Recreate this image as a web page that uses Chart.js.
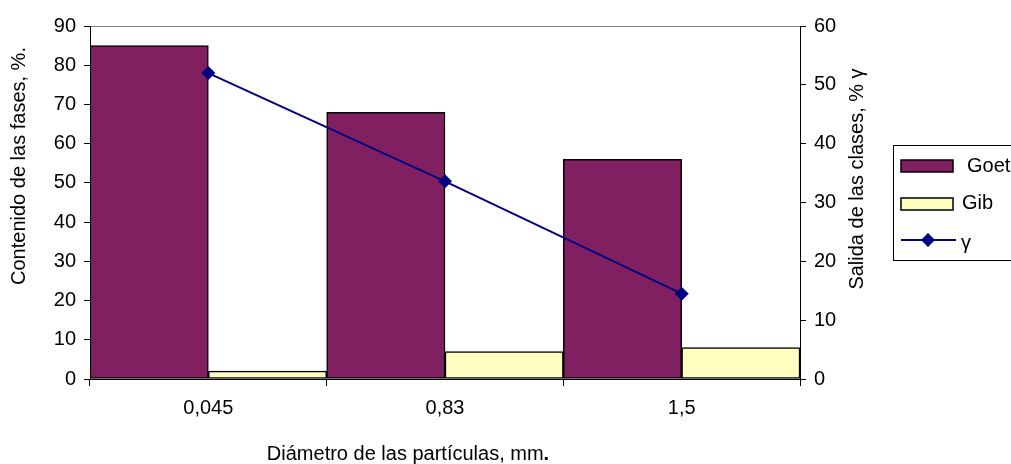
<!DOCTYPE html>
<html>
<head>
<meta charset="utf-8">
<script src="https://cdn.jsdelivr.net/npm/chart.js@4/dist/chart.umd.min.js"></script>
<style>
  body { margin: 0; background: #fff; }
  #wrap { width: 1011px; height: 464px; }
</style>
</head>
<body>
<div id="wrap"><canvas id="chart" width="1011" height="464"></canvas></div>
<script>
// Data
const categories = ['0,045', '0,83', '1,5'];
const goetValues = [85, 68, 56];
const gibValues = [2, 7, 8];
const gammaValues = [52, 33.6, 14.5];

const leftTitle = 'Contenido de las fases, %.';
const rightTitle = 'Salida de las clases, % \u03b3';
const xTitle = 'Diámetro de las partículas, mm';

const FONT = '"Liberation Sans", Arial, sans-serif';
const goetColor = '#802060';
const gibColor = '#FFFFC0';
const lineColor = '#000080';

// Titles and legend drawn by hand so they sit where the reference has them
const extrasPlugin = {
    id: 'extras',
    afterDraw(chart) {
        const c = chart.ctx;
        c.save();
        c.fillStyle = '#000';
        c.font = '20px ' + FONT;
        c.textBaseline = 'middle';

        // left axis title
        c.save();
        c.translate(19, 166);
        c.rotate(-Math.PI / 2);
        c.textAlign = 'center';
        c.fillText(leftTitle, 0, 0);
        c.restore();

        // right axis title (reads upward, like the left one)
        c.save();
        c.translate(857, 179);
        c.rotate(-Math.PI / 2);
        c.textAlign = 'center';
        c.fillText(rightTitle, 0, 0);
        c.restore();

        // x axis title with a bold full stop
        c.textAlign = 'left';
        const w = c.measureText(xTitle).width;
        c.font = 'bold 20px ' + FONT;
        const wDot = c.measureText('.').width;
        const x0 = 408 - (w + wDot) / 2;
        c.font = '20px ' + FONT;
        c.fillText(xTitle, x0, 454);
        c.font = 'bold 20px ' + FONT;
        c.fillText('.', x0 + w, 454);

        // legend box
        c.strokeStyle = '#000';
        c.lineWidth = 1;
        c.strokeRect(893.5, 145.5, 130, 115);

        c.font = '20px ' + FONT;
        c.lineWidth = 1.5;
        c.fillStyle = goetColor;
        c.fillRect(901, 160, 52, 12);
        c.strokeRect(901, 160, 52, 12);
        c.fillStyle = '#000';
        c.fillText(chart.data.datasets[1].label, 967, 166);

        c.fillStyle = gibColor;
        c.fillRect(901, 198, 52, 12);
        c.strokeRect(901, 198, 52, 12);
        c.fillStyle = '#000';
        c.fillText(chart.data.datasets[2].label, 962, 203);

        c.strokeStyle = lineColor;
        c.lineWidth = 2;
        c.beginPath();
        c.moveTo(901, 240);
        c.lineTo(956, 240);
        c.stroke();
        c.fillStyle = lineColor;
        c.beginPath();
        c.moveTo(928, 233);
        c.lineTo(935, 240);
        c.lineTo(928, 247);
        c.lineTo(921, 240);
        c.closePath();
        c.fill();
        c.fillStyle = '#000';
        c.fillText(chart.data.datasets[0].label, 961, 243);

        c.restore();
    }
};

const ctx = document.getElementById('chart').getContext('2d');
const chart = new Chart(ctx, {
    data: {
        labels: categories,
        datasets: [
            {
                type: 'line',
                label: '\u03b3',
                data: gammaValues,
                yAxisID: 'y1',
                borderColor: lineColor,
                backgroundColor: lineColor,
                borderWidth: 2,
                pointStyle: 'rectRot',
                pointRadius: 7,
                pointBorderWidth: 0,
                tension: 0,
                order: 0,
            },
            {
                type: 'bar',
                label: 'Goet',
                data: goetValues,
                yAxisID: 'y',
                backgroundColor: goetColor,
                borderColor: '#000',
                borderWidth: 1.5,
                borderSkipped: false,
                categoryPercentage: 1,
                barPercentage: 1,
                order: 1,
            },
            {
                type: 'bar',
                label: 'Gib',
                data: gibValues,
                yAxisID: 'y',
                backgroundColor: gibColor,
                borderColor: '#000',
                borderWidth: 1.5,
                borderSkipped: false,
                categoryPercentage: 1,
                barPercentage: 1,
                order: 1,
            },
        ],
    },
    options: {
        responsive: false,
        animation: false,
        layout: { padding: { top: 26, right: 136, bottom: 0, left: 0 } },
        plugins: {
            legend: { display: false },
            tooltip: { enabled: false },
        },
        scales: {
            x: {
                offset: true,
                grid: {
                    offset: true,
                    drawOnChartArea: false,
                    tickLength: 7,
                    color: '#000',
                },
                border: { color: '#000', width: 1 },
                ticks: { color: '#000', font: { size: 20, family: FONT }, padding: 10 },
                afterFit(scale) { scale.height = 85; },
            },
            y: {
                position: 'left',
                min: 0,
                max: 90,
                ticks: { stepSize: 10, color: '#000', font: { size: 20, family: FONT }, padding: 8 },
                grid: {
                    color: (c) => (c.tick && c.tick.value === 90 ? '#808080' : 'rgba(0,0,0,0)'),
                    tickColor: '#000',
                    tickLength: 6,
                },
                border: { color: '#000', width: 1 },
                afterFit(scale) { scale.width = 90; },
            },
            y1: {
                position: 'right',
                min: 0,
                max: 60,
                ticks: { stepSize: 10, color: '#000', font: { size: 20, family: FONT }, padding: 8 },
                grid: {
                    drawOnChartArea: false,
                    color: '#000',
                    tickLength: 6,
                },
                border: { color: '#000', width: 1 },
                afterFit(scale) { scale.width = 75; },
            },
        },
    },
    plugins: [extrasPlugin],
});
</script>
</body>
</html>
